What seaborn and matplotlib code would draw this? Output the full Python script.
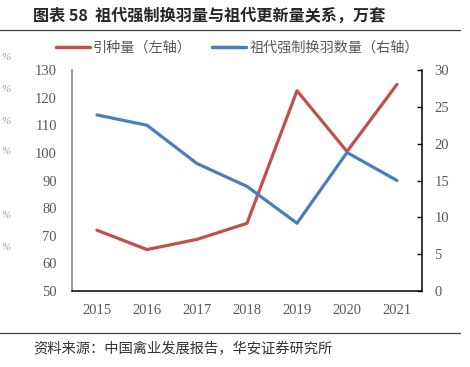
import pandas as pd
import matplotlib
matplotlib.use('Agg')
import matplotlib.pyplot as plt
import seaborn as sns
from matplotlib.lines import Line2D

# data
years = [2015, 2016, 2017, 2018, 2019, 2020, 2021]
intro = [72, 65, 68.7, 74.5, 122.5, 100.5, 124.8]          # 引种量, left axis
molt = [23.9, 22.5, 17.3, 14.2, 9.2, 18.8, 15.0]           # 祖代强制换羽数量, right axis
left_ticks = [50, 60, 70, 80, 90, 100, 110, 120, 130]
right_ticks = [0, 5, 10, 15, 20, 25, 30]

title = '图表 58  祖代强制换羽量与祖代更新量关系，万套'
label_red = '引种量（左轴）'
label_blue = '祖代强制换羽数量（右轴）'
source = '资料来源：中国禽业发展报告，华安证券研究所'

df = pd.DataFrame({'year': years, 'intro': intro, 'molt': molt})

sns.set_style('white')
plt.rcParams['font.family'] = ['Noto Sans CJK SC', 'DejaVu Sans']

RED = '#C0504D'
BLUE = '#4A7EBB'
TICK = '#595959'
SERIF = ['Liberation Serif', 'DejaVu Serif']

fig = plt.figure(figsize=(4.7, 3.67), dpi=100)
ax = fig.add_axes([72 / 470, 1 - 291 / 367, 350 / 470, 221 / 367])
ax2 = ax.twinx()

sns.lineplot(data=df, x='year', y='intro', ax=ax, color=RED, linewidth=2.3,
             solid_capstyle='round', label=label_red, legend=False)
sns.lineplot(data=df, x='year', y='molt', ax=ax2, color=BLUE, linewidth=2.3,
             solid_capstyle='round', label=label_blue, legend=False)

ax.set_xlim(2014.5, 2021.5)
ax.set_ylim(50, 130)
ax2.set_ylim(0, 30)
ax.set_xticks(years)
ax.set_xticklabels([str(y) for y in years])
ax.set_yticks(left_ticks)
ax2.set_yticks(right_ticks)
ax.set_xlabel('')
ax.set_ylabel('')
ax2.set_ylabel('')

for a in (ax, ax2):
    a.spines['top'].set_visible(False)
    for lab in a.get_xticklabels() + a.get_yticklabels():
        lab.set_family(SERIF)
        lab.set_color(TICK)
        lab.set_fontsize(10.5)

ax.spines['left'].set_color('#7f7f7f')
ax.spines['left'].set_linewidth(1.1)
ax.spines['bottom'].set_color('#000000')
ax.spines['bottom'].set_linewidth(1.1)
ax.spines['right'].set_visible(False)
ax2.spines['left'].set_visible(False)
ax2.spines['bottom'].set_visible(False)
ax2.spines['right'].set_color('#000000')
ax2.spines['right'].set_linewidth(1.1)

ax.tick_params(axis='y', length=0, pad=11)
ax.tick_params(axis='x', length=0, pad=9)
ax2.tick_params(axis='y', direction='in', length=3.5, width=1, color='#000000', pad=9)

# legend on top
handles = [Line2D([], [], color=RED, linewidth=2.5), Line2D([], [], color=BLUE, linewidth=2.5)]
fig.legend(handles, [label_red, label_blue], loc='center', bbox_to_anchor=(0.505, 1 - 48 / 367),
           ncol=2, frameon=False, fontsize=10.2, handlelength=2.4, handletextpad=0.25,
           columnspacing=1.4, labelcolor='#595959')

# title, separators and source
fig.text(33 / 470, 1 - 16 / 367, title, fontsize=11.6, fontweight='bold', va='center', ha='left')
fig.add_artist(Line2D([0, 460 / 470], [1 - 30 / 367, 1 - 30 / 367], color='#404040', linewidth=0.9))
fig.add_artist(Line2D([0, 460 / 470], [1 - 333 / 367, 1 - 333 / 367], color='#404040', linewidth=0.9))
fig.text(33 / 470, 1 - 349 / 367, source, fontsize=10.3, va='center', ha='left', color='#333333')

# faint remnants of a neighbouring chart on the left edge
for yy in [58, 89, 122, 151, 215, 247]:
    fig.text(1 / 470, 1 - yy / 367, '%', fontsize=8, family=SERIF, style='italic',
             color='#a0a0a0', va='center', ha='left')

fig.savefig('out.png', dpi=100, facecolor='white')
